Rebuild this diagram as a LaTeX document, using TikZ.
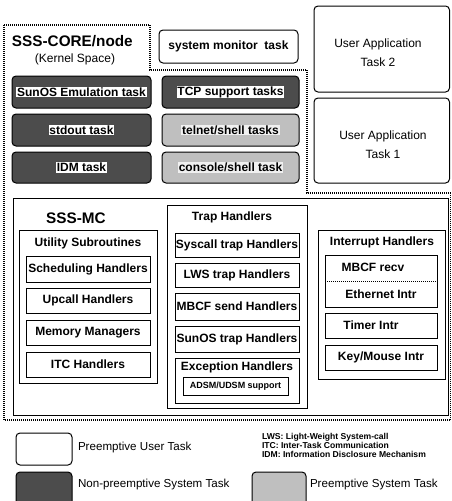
\documentclass[tikz,border=0pt]{standalone}
\usepackage{fontspec}
\setmainfont{Liberation Sans}
\newcommand\whl[2][white]{{\setlength{\fboxsep}{0.7pt}\colorbox{#1}{#2}}}
\begin{document}
\begin{tikzpicture}[x=1pt,y=-1pt,
  every node/.style={inner sep=0pt, outer sep=0pt},
  txt/.style={font=\bfseries\fontsize{12}{13}\selectfont},
  rtxt/.style={font=\fontsize{12}{13}\selectfont},
  ltxt/.style={font=\fontsize{11.6}{13}\selectfont, anchor=west},
  ttl/.style={font=\bfseries\fontsize{15.3}{17}\selectfont},
  small/.style={font=\bfseries\fontsize{9}{10}\selectfont},
  note/.style={font=\bfseries\fontsize{8.6}{9}\selectfont, anchor=west},
  box/.style={draw, line width=1pt, txt},
  task/.style={box, rounded corners=4pt},
  darktask/.style={task, fill=black!70},
  lighttask/.style={task, fill=black!25},
  core/.style={line width=1.2pt, dash pattern=on 1pt off 1pt}
]
\useasboundingbox (0,0) rectangle (452,501);
\clip (0,0) rectangle (452,501);

% SSS-CORE dotted region
\draw[core] (4,25) -- (150,25) -- (150,70) -- (307,70) -- (307,193) -- (450.5,193) -- (450.5,420) -- (4,420) -- cycle;
\node[ttl, anchor=west] (coret) at (12,41) {SSS-CORE/node};
\node[rtxt] (kern) at (75,59) {(Kernel Space)};

% tasks
\node[task, minimum width=139, minimum height=33] (sysmon) at (228.5,46.5) {system monitor\ \ task};
\node[darktask, minimum width=139, minimum height=32] (sunos) at (81.5,92) {\whl{SunOS Emulation task}};
\node[darktask, minimum width=137, minimum height=32] (tcp) at (230.5,92) {\whl{TCP support tasks}};
\node[darktask, minimum width=139, minimum height=32] (stdout) at (81.5,130) {\whl{stdout task}};
\node[lighttask, minimum width=137, minimum height=32] (telnet) at (230.5,130) {\whl[black!6]{telnet/shell tasks}};
\node[darktask, minimum width=139, minimum height=31] (idm) at (81.5,167.5) {\whl{IDM task}};
\node[lighttask, minimum width=137, minimum height=31] (console) at (230.5,167.5) {\whl[black!6]{console/shell task}};

% user applications
\node[task, minimum width=135.5, minimum height=86] (uapp2) at (381.75,49) {};
\node[align=center, font=\fontsize{12}{19}\selectfont] (uapp2t) at (378,52.5) {User Application\\Task 2};
\node[task, minimum width=135.5, minimum height=85] (uapp1) at (381.75,140.5) {};
\node[align=center, font=\fontsize{12}{19}\selectfont] (uapp1t) at (383,144.5) {User Application\\Task 1};

% SSS-MC
\node[box, line width=0.9pt, minimum width=435, minimum height=217] (mc) at (230.5,306.5) {};
\node[ttl] (mct) at (76,218) {SSS-MC};

% Utility subroutines
\node[box, minimum width=138, minimum height=153] (util) at (88,306.5) {};
\node[txt] (utilt) at (88,243) {Utility Subroutines};
\node[box, minimum width=124, minimum height=26] (sched) at (88,269) {Scheduling Handlers};
\node[box, minimum width=124, minimum height=25] (upcall) at (88,300.5) {Upcall Handlers};
\node[box, minimum width=124, minimum height=25] (mem) at (88,332.5) {Memory Managers};
\node[box, minimum width=124, minimum height=25] (itc) at (88,364.5) {ITC Handlers};

% Trap handlers
\node[box, minimum width=140, minimum height=203] (trap) at (237,306.5) {};
\node[txt] (trapt) at (232,217) {Trap Handlers};
\node[box, minimum width=124, minimum height=24] (sysc) at (237,245) {Syscall trap Handlers};
\node[box, minimum width=124, minimum height=24] (lws) at (237,275) {LWS trap Handlers};
\node[box, minimum width=124, minimum height=27] (mbcfs) at (237,306.5) {MBCF send Handlers};
\node[box, minimum width=124, minimum height=26] (sunost) at (237,339) {SunOS trap Handlers};
\node[box, minimum width=124, minimum height=45] (exc) at (237,380.5) {};
\node[txt] (exct) at (237,367) {Exception Handlers};
\node[draw, line width=0.8pt, small, minimum width=105, minimum height=18] (adsm) at (235.5,386) {ADSM/UDSM support};

% Interrupt handlers
\node[box, minimum width=127, minimum height=149] (intr) at (381.5,304.5) {};
\node[txt] (intrt) at (382,242) {Interrupt Handlers};
\node[box, minimum width=112, minimum height=52] (eth) at (381,281) {};
\draw[line width=0.8pt, dash pattern=on 1pt off 1pt] (eth.west) -- (eth.east);
\node[txt] (mbcfr) at (373,267.5) {MBCF recv};
\node[txt] (etht) at (381,294) {Ethernet Intr};
\node[box, minimum width=112, minimum height=25] (timer) at (381,325.5) {};
\node[txt] (timert) at (371,325.5) {Timer Intr};
\node[box, minimum width=112, minimum height=25] (key) at (381,357.5) {Key/Mouse Intr};

% legend
\node[task, minimum width=56, minimum height=32] (lg1) at (44,449) {};
\node[ltxt] (lg1t) at (78,447) {Preemptive User Task};
\node[darktask, minimum width=56, minimum height=36] (lg2) at (44,490) {};
\node[ltxt] (lg2t) at (78,484) {Non-preemptive System Task};
\node[lighttask, minimum width=54, minimum height=36] (lg3) at (279,490) {};
\node[ltxt] (lg3t) at (310,484) {Preemptive System Task};
\node[note] (n1) at (262,437) {LWS: Light-Weight System-call};
\node[note] (n2) at (262,445.5) {ITC: Inter-Task Communication};
\node[note] (n3) at (262,454) {IDM: Information Disclosure Mechanism};
\end{tikzpicture}
\end{document}
